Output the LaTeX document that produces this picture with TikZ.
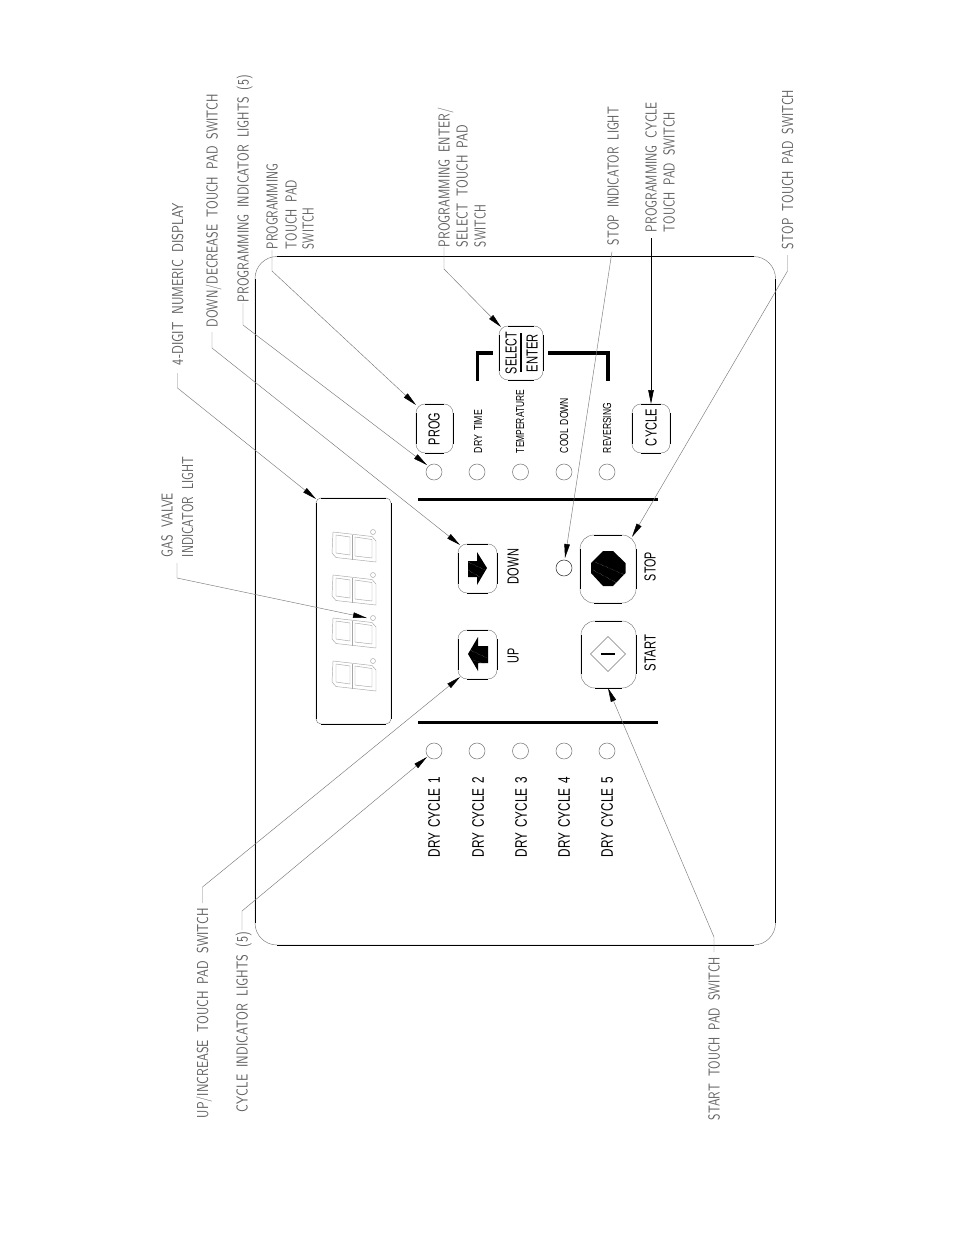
\documentclass[tikz,border=0pt]{standalone}
\usepackage{fontspec}
\usetikzlibrary{arrows.meta}
\newfontfamily\arialf[WordSpace=1.5]{Liberation Sans}
\newfontfamily\cadf[WordSpace=1.8]{Latin Modern Sans}
\definecolor{cadgray}{gray}{0.38}
\definecolor{thingray}{gray}{0.48}
\tikzset{
  leader/.style={draw=thingray,line width=0.45pt,-{Triangle[length=14pt,width=5.5pt,color=black,fill=black]}},
  blackleader/.style={draw=black,line width=0.7pt,-{Triangle[length=14pt,width=5.5pt,color=black,fill=black]}},
  edge line/.style={draw=black,line width=0.7pt},
  corner line/.style={draw=thingray,line width=0.45pt},
  heavy bar/.style={draw=black,line width=3.2pt},
  lamp/.style={circle,draw=thingray,line width=0.55pt,minimum size=16pt,inner sep=0pt},
  seg/.style={draw=gray!70,line width=0.45pt},
  scuff/.style={draw=white!70!black,line width=0.35pt,densely dotted},
  txt/.style={rotate=90,inner sep=0pt,outer sep=0pt},
}
% name, cx, y1, y2, height, text
\newcommand\cadlab[6]{%
  \pgfmathsetmacro\lc{(#3+#4)/2}\pgfmathsetmacro\ll{#4-#3}%
  \node[txt,text=cadgray] (#1) at (#2,\lc) {\resizebox{\ll pt}{#5pt}{\cadf\vphantom{H}\smash{#6}}};}
\newcommand\panlab[6]{%
  \pgfmathsetmacro\lc{(#3+#4)/2}\pgfmathsetmacro\ll{#4-#3}%
  \node[txt,text=black] (#1) at (#2,\lc) {\resizebox{\ll pt}{#5pt}{\arialf\vphantom{H}\smash{#6}}};}
% x1,y1,x2,y2,r
\newcommand\padbox[5]{%
  \draw[corner line,rounded corners=#5pt] (#1,#2) rectangle (#3,#4);
  \pgfmathsetmacro\aa{#1+#5}\pgfmathsetmacro\bb{#3-#5}\pgfmathsetmacro\cc{#2+#5}\pgfmathsetmacro\dd{#4-#5}%
  \draw[edge line] (\aa,#2) -- (\bb,#2) (\aa,#4) -- (\bb,#4) (#1,\cc) -- (#1,\dd) (#3,\cc) -- (#3,\dd);}
\begin{document}
\begin{tikzpicture}[x=1pt,y=-1pt]
\useasboundingbox (0,0) rectangle (954,1235);
\fill[white] (0,0) rectangle (954,1235);

% panel
\padbox{255}{256.5}{775.5}{945}{22}
% display
\padbox{316}{498}{391}{724}{5}
\foreach \d in {0,1,2,3}{
  \begin{scope}[yshift=-43*\d pt]
    \draw[seg] (333,532) -- (372,536.5) -- (376,541) -- (376,562) -- (336,557.5) -- (332,553) -- cycle;
    \draw[seg,line width=0.8pt] (352,535) -- (352,559.5);
    \draw[seg] (336,535) -- (350,537) -- (350,555) -- (336,553) -- cycle;
    \draw[seg] (355,537) -- (372,539.5) -- (372,558) -- (355,556) -- cycle;
    \draw[seg] (373,532) circle (2.5);
  \end{scope}
}
% heavy bars
\draw[heavy bar] (418,499.5) -- (658,499.5);
\draw[heavy bar] (418,722.5) -- (658,722.5);
\draw[heavy bar] (493,353) -- (477.5,353) -- (477.5,381);
\draw[heavy bar] (548,353) -- (608,353) -- (608,381);

% lamps
\foreach \n/\x in {a/434,b/477,c/520.5,d/564,e/607}{
  \node[lamp] (top\n) at (\x,472) {};
  \node[lamp] (bot\n) at (\x,751) {};
}
\node[lamp,draw=black!80] (stoplamp) at (564,568) {};

% pads
\padbox{416}{404}{453}{453}{9}
\padbox{632}{404}{670}{453}{9}
\padbox{499}{326}{543}{380}{9}
\padbox{458}{544}{497}{593}{9}
\padbox{458}{630}{497}{679}{9}
\padbox{580}{535}{636}{603}{14}
\padbox{581}{621}{636}{688}{14}
\draw[black,line width=1.4pt] (521,333) -- (521,372);

% symbols
\fill[black] (468,561) -- (477,561) -- (477,552) -- (487,568) -- (477,585) -- (477,577) -- (468,577) -- cycle;
\fill[black] (468,654) -- (478,637) -- (478,646) -- (488,646) -- (488,663) -- (478,663) -- (478,671) -- cycle;
\fill[black] (603,551) -- (613,551) -- (625.5,563) -- (625.5,573) -- (613,586) -- (603,586) -- (591,573) -- (591,563) -- cycle;
\draw[scuff] (595,562) -- (625,575) (593,570) -- (617,583);
\draw[scuff] (468,562) -- (485,570) (468,570) -- (480,577);
\draw[scuff] (470,650) -- (487,658) (473,660) -- (485,664);
\draw[thingray,line width=0.4pt] (608,636.5) -- (625.5,654) -- (608,671.5) -- (590.5,654) -- cycle;
\draw[black,line width=1.6pt] (601,654) -- (615,654);

% panel texts
\panlab{tprog}{434}{413}{445}{11}{PROG}
\panlab{tcycle}{651}{409}{446}{11}{CYCLE}
\panlab{tselect}{511}{332}{374}{11}{SELECT}
\panlab{tenter}{532}{334}{372}{11}{ENTER}
\panlab{tdrytime}{478}{410}{453}{8}{DRY TIME}
\panlab{ttemp}{520}{390}{453}{8}{TEMPERATURE}
\panlab{tcool}{564}{398}{453}{8}{COOL DOWN}
\panlab{trev}{607}{403}{453}{8}{REVERSING}
\panlab{tdown}{513}{549}{584}{11}{DOWN}
\panlab{tup}{513}{648}{663}{11}{UP}
\panlab{tstop}{650}{552}{581}{11}{STOP}
\panlab{tstart}{650}{635}{671}{11}{START}
\panlab{tc1}{434}{777}{857}{11.5}{DRY CYCLE 1}
\panlab{tc2}{478}{777}{857}{11.5}{DRY CYCLE 2}
\panlab{tc3}{521}{777}{857}{11.5}{DRY CYCLE 3}
\panlab{tc4}{564}{777}{857}{11.5}{DRY CYCLE 4}
\panlab{tc5}{607}{777}{857}{11.5}{DRY CYCLE 5}

% callout texts
\cadlab{l4dig}{177.5}{203}{365}{11}{4-DIGIT NUMERIC DISPLAY}
\cadlab{ldown}{212}{94}{327}{11}{DOWN/DECREASE TOUCH PAD SWITCH}
\cadlab{lprogind}{243}{75}{302}{11}{PROGRAMMING INDICATOR LIGHTS (5)}
\cadlab{lprog}{272}{164}{249}{11}{PROGRAMMING}
\cadlab{lprogb}{291}{180}{249}{11}{TOUCH PAD}
\cadlab{lprogc}{308}{208}{249}{11}{SWITCH}
\cadlab{lenter}{444}{108}{247}{11}{PROGRAMMING ENTER/}
\cadlab{lenterb}{462}{125}{247}{11}{SELECT TOUCH PAD}
\cadlab{lenterc}{480}{205}{247}{11}{SWITCH}
\cadlab{lstopind}{613}{107}{245}{11}{STOP INDICATOR LIGHT}
\cadlab{lcyc}{651}{102}{232}{11}{PROGRAMMING CYCLE}
\cadlab{lcycb}{669}{112}{232}{11}{TOUCH PAD SWITCH}
\cadlab{lstop}{787.5}{90}{249}{11}{STOP TOUCH PAD SWITCH}
\cadlab{lup}{202.5}{908}{1118}{11}{UP/INCREASE TOUCH PAD SWITCH}
\cadlab{lcycind}{242}{932}{1112}{11}{CYCLE INDICATOR LIGHTS (5)}
\cadlab{lstart}{714}{957}{1120}{11}{START TOUCH PAD SWITCH}
\cadlab{lgas}{167}{493}{557}{11}{GAS VALVE}
\cadlab{lgasb}{187.5}{457}{557}{11}{INDICATOR LIGHT}

% leader points
\coordinate (b4dig) at (177.5,388);
\coordinate (tip4dig) at (316,499);
\coordinate (bdown) at (212,348);
\coordinate (tipdown) at (460,545);
\coordinate (bprogind) at (243,325);
\coordinate (tipprogind) at (427,465);
\coordinate (bprog) at (272,271);
\coordinate (tipprog) at (416,405);
\coordinate (benter) at (444,269);
\coordinate (tipenter) at (501,327);
\coordinate (tipstopind) at (565,558);
\coordinate (tipcyc) at (651,404);
\coordinate (bstop) at (787.5,271);
\coordinate (tipstop) at (632,537);
\coordinate (bup) at (202.5,887);
\coordinate (tipup) at (460,677);
\coordinate (bcycind) at (242,911);
\coordinate (tipcycind) at (427,757);
\coordinate (bstart) at (714,937);
\coordinate (tipstart) at (608,688);
\coordinate (sgas) at (177,563);
\coordinate (bgas) at (177,578);
\coordinate (tipgas) at (367,618);

% leaders
\draw[leader,shorten <=8pt] (l4dig.west) -- (b4dig) -- (tip4dig);
\draw[leader,shorten <=5pt] (ldown.west) -- (bdown) -- (tipdown);
\draw[leader,shorten <=1pt] (lprogind.west) -- (bprogind) -- (tipprogind);
\draw[leader,shorten <=1pt] (lprog.west) -- (bprog) -- (tipprog);
\draw[leader] (lenter.west) -- (benter) -- (tipenter);
\draw[leader,shorten <=7pt] (lstopind.west) -- (tipstopind);
\draw[blackleader,shorten <=6pt] (lcyc.west) -- (tipcyc);
\draw[leader,shorten <=6pt] (lstop.west) -- (bstop) -- (tipstop);
\draw[leader,shorten <=5pt] (lup.east) -- (bup) -- (tipup);
\draw[leader,shorten <=2pt] (lcycind.east) -- (bcycind) -- (tipcycind);
\draw[leader,shorten <=5pt] (lstart.east) -- (bstart) -- (tipstart);
\draw[leader] (sgas) -- (bgas) -- (tipgas);
\end{tikzpicture}
\end{document}
